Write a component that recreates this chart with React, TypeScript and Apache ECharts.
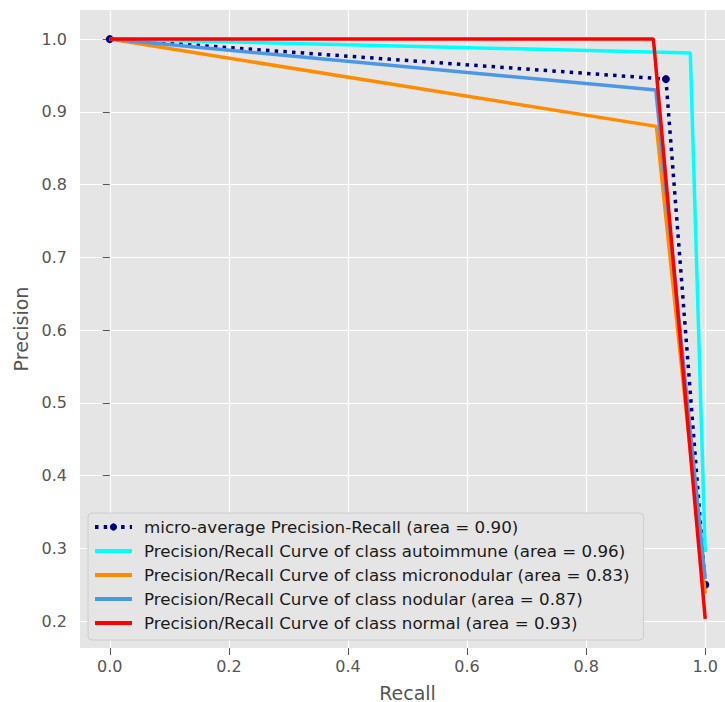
import React, { useEffect, useRef } from "react";
import * as echarts from "echarts";

const xTicks = [0, 0.2, 0.4, 0.6, 0.8, 1.0];
const yTicks = [0.2, 0.3, 0.4, 0.5, 0.6, 0.7, 0.8, 0.9, 1.0];

const microRecall = [0, 0.934, 1];
const microPrecision = [1, 0.945, 0.25];
const autoRecall = [0, 0.975, 1];
const autoPrecision = [1, 0.981, 0.295];
const micronodRecall = [0, 0.918, 1];
const micronodPrecision = [1, 0.88, 0.238];
const nodularRecall = [0, 0.917, 1];
const nodularPrecision = [1, 0.93, 0.258];
const normalRecall = [0, 0.913, 1];
const normalPrecision = [1, 1.0, 0.203];

const seriesNames = [
  "micro-average Precision-Recall (area = 0.90)",
  "Precision/Recall Curve of class autoimmune (area = 0.96)",
  "Precision/Recall Curve of class micronodular (area = 0.83)",
  "Precision/Recall Curve of class nodular (area = 0.87)",
  "Precision/Recall Curve of class normal (area = 0.93)",
];
const colors = ["#000080", "#00FFFF", "#FF8C00", "#4A97E8", "#FF0000"];

const zip = (xs: number[], ys: number[]) => xs.map((x, i) => [x, ys[i]]);

export default function App() {
  const ref = useRef<HTMLDivElement>(null);
  useEffect(() => {
    if (!ref.current) return;
    const chart = echarts.init(ref.current, null, { renderer: "svg" });
    const font = "DejaVu Sans";
    const solid = (name: string, color: string, xs: number[], ys: number[]) => ({
      name,
      type: "line",
      data: zip(xs, ys),
      symbol: "none",
      lineStyle: { color, width: 3.5 },
      itemStyle: { color },
      z: 3,
    });
    chart.setOption({
      animation: false,
      backgroundColor: "#FFFFFF",
      textStyle: { fontFamily: font },
      grid: {
        left: 80,
        top: 10,
        right: -10,
        bottom: 54,
        show: true,
        backgroundColor: "#E5E5E5",
        borderWidth: 0,
        outerBoundsMode: "none",
        containLabel: false,
      },
      xAxis: {
        type: "value",
        min: -0.05,
        max: 1.05,
        name: "Recall",
        nameLocation: "middle",
        nameGap: 35,
        nameTextStyle: { fontSize: 19, color: "#555555", fontFamily: font },
        axisLine: { show: false },
        axisTick: { show: true, length: 7, lineStyle: { color: "#555555", width: 1 }, customValues: xTicks },
        axisLabel: {
          customValues: xTicks,
          formatter: (v: number) => v.toFixed(1),
          fontSize: 16,
          color: "#555555",
          fontFamily: font,
          margin: 10,
        },
        splitLine: { show: true, lineStyle: { color: "#FFFFFF", width: 1.2 } },
      },
      yAxis: {
        type: "value",
        min: 0.163,
        max: 1.04,
        name: "Precision",
        nameLocation: "middle",
        nameGap: 38,
        nameTextStyle: { fontSize: 19, color: "#555555", fontFamily: font },
        axisLine: { show: false },
        axisTick: { show: true, length: 7, lineStyle: { color: "#555555", width: 1 }, customValues: yTicks },
        axisLabel: {
          customValues: yTicks,
          formatter: (v: number) => v.toFixed(1),
          fontSize: 16,
          color: "#555555",
          fontFamily: font,
          margin: 13,
        },
        splitLine: { show: true, lineStyle: { color: "#FFFFFF", width: 1.2 } },
      },
      legend: {
        orient: "vertical",
        left: 88,
        top: 513,
        padding: [5, 14, 8, 5],
        itemWidth: 37,
        itemHeight: 9,
        itemGap: 6,
        backgroundColor: "#E5E5E5",
        borderColor: "#CCCCCC",
        borderWidth: 1,
        borderRadius: 4,
        lineStyle: { width: 4 },
        textStyle: { fontSize: 16.7, color: "#1A1A1A", fontFamily: font, lineHeight: 18, padding: [0, 0, 0, 7] },
        data: seriesNames.map((name, i) =>
          i === 0 ? { name } : { name, itemStyle: { opacity: 0 } }
        ),
      },
      series: [
        {
          name: seriesNames[0],
          type: "line",
          data: zip(microRecall, microPrecision),
          symbol: "circle",
          symbolSize: 8,
          showAllSymbol: true,
          lineStyle: { color: colors[0], width: 3.5, type: [3.5, 5.2], cap: "butt" },
          itemStyle: { color: colors[0] },
          z: 2,
        },
        solid(seriesNames[1], colors[1], autoRecall, autoPrecision),
        solid(seriesNames[2], colors[2], micronodRecall, micronodPrecision),
        solid(seriesNames[3], colors[3], nodularRecall, nodularPrecision),
        solid(seriesNames[4], colors[4], normalRecall, normalPrecision),
      ],
    });
    return () => chart.dispose();
  }, []);
  return <div ref={ref} style={{ position: "fixed", left: 0, top: 0, width: 725, height: 702 }} />;
}
